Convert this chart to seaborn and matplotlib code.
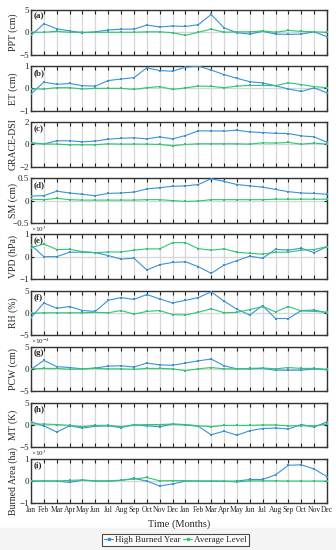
import numpy as np
import pandas as pd
import matplotlib
matplotlib.use("Agg")
import matplotlib.pyplot as plt
import seaborn as sns
from matplotlib.lines import Line2D

months = ["Jan", "Feb", "Mar", "Apr", "May", "Jun", "Jul", "Aug", "Sep", "Oct", "Nov", "Dec"] * 2
series_names = ["High Burned Year", "Average Level"]

ppt_high = [-0.7, 1.9, 0.8, 0.3, -0.1, 0.1, 0.5, 0.7, 0.7, 1.6, 1.2, 1.4, 1.3, 1.7, 4.0, 1.0, -0.1, -0.4, 0.2, -0.4, -0.5, -0.4, 0.1, -1.0]
ppt_avg = [0.0, 0.0, 0.2, 0.0, 0.0, 0.0, 0.0, 0.0, 0.0, 0.1, 0.1, -0.1, -0.7, 0.0, 0.7, 0.0, 0.1, 0.1, 0.3, 0.0, 0.4, 0.2, 0.1, 0.0]

et_high = [-0.25, 0.28, 0.18, 0.22, 0.12, 0.10, 0.35, 0.42, 0.48, 0.92, 0.80, 0.77, 0.95, 1.0, 0.82, 0.62, 0.45, 0.30, 0.24, 0.12, -0.03, -0.14, 0.02, -0.2]
et_avg = [-0.03, -0.03, 0.03, 0.03, -0.03, 0.0, 0.0, 0.0, -0.05, 0.03, 0.08, -0.05, 0.02, 0.10, 0.09, 0.03, 0.10, 0.13, 0.13, 0.12, 0.25, 0.17, 0.08, 0.03]

grace_high = [0.15, 0.05, 0.33, 0.33, 0.24, 0.30, 0.47, 0.56, 0.60, 0.50, 0.68, 0.50, 0.80, 1.22, 1.22, 1.20, 1.28, 1.13, 1.07, 1.00, 0.98, 0.77, 0.68, 0.20]
grace_avg = [0.10, 0.05, 0.03, -0.03, -0.03, -0.03, 0.06, 0.03, 0.03, 0.03, 0.0, -0.12, 0.0, 0.06, 0.06, 0.06, 0.06, 0.03, 0.15, 0.12, 0.18, 0.03, 0.12, 0.03]

sm_high = [0.10, 0.11, 0.21, 0.17, 0.14, 0.11, 0.16, 0.17, 0.19, 0.26, 0.29, 0.32, 0.33, 0.36, 0.49, 0.43, 0.36, 0.33, 0.30, 0.25, 0.20, 0.17, 0.16, 0.14]
sm_avg = [0.03, 0.02, 0.05, 0.02, 0.01, 0.01, 0.01, 0.01, 0.01, 0.02, 0.02, 0.0, -0.02, -0.01, 0.02, 0.02, 0.02, 0.02, 0.02, 0.03, 0.03, 0.03, 0.03, 0.03]

vpd_high = [0.52, 0.0, 0.0, 0.20, 0.20, 0.18, 0.05, -0.11, -0.07, -0.60, -0.36, -0.26, -0.23, -0.45, -0.75, -0.38, -0.18, 0.02, -0.07, 0.33, 0.29, 0.38, 0.18, 0.45]
vpd_avg = [0.40, 0.57, 0.32, 0.33, 0.23, 0.18, 0.21, 0.21, 0.29, 0.35, 0.35, 0.63, 0.63, 0.36, 0.29, 0.35, 0.20, 0.15, 0.11, 0.20, 0.20, 0.29, 0.32, 0.45]

rh_high = [-1.1, 2.2, 1.0, 1.4, 0.5, 0.3, 2.8, 3.4, 3.0, 4.1, 3.1, 2.2, 2.8, 3.4, 4.7, 2.6, 0.8, -0.5, 1.6, -1.3, -1.3, 0.5, 0.6, 0.0]
rh_avg = [-0.1, 0.0, 0.0, 0.0, 0.0, 0.1, 0.0, 0.5, -0.3, 0.3, 0.5, -0.4, -0.5, 0.1, 0.9, 0.0, 0.1, 0.7, 1.4, 0.2, 1.4, 0.4, 0.3, 0.1]

pcw_high = [-0.1, 1.9, 0.5, 0.3, 0.0, 0.2, 0.6, 0.7, 0.4, 1.3, 0.9, 0.8, 1.3, 1.8, 2.2, 0.7, 0.0, 0.0, 0.1, -0.3, -0.3, -0.3, 0.0, -0.2]
pcw_avg = [0.0, 0.1, 0.1, -0.1, 0.0, 0.1, 0.0, 0.0, -0.1, 0.1, 0.1, 0.0, -0.4, 0.0, 0.3, 0.0, 0.0, 0.1, 0.2, 0.0, 0.3, 0.1, 0.1, -0.1]

mt_high = [0.7, -0.2, -1.6, -0.2, -0.7, -0.3, -0.2, -0.6, 0.1, -0.2, -0.4, 0.2, 0.0, -0.3, -2.2, -1.4, -2.3, -1.3, -0.8, -0.7, -0.9, 0.1, -0.5, 0.7]
mt_avg = [0.2, 0.2, 0.1, -0.1, -0.4, -0.1, -0.1, -0.4, -0.1, 0.1, 0.1, 0.2, 0.1, -0.2, -0.4, -0.1, -0.1, -0.1, 0.0, 0.0, -0.2, -0.2, -0.2, 0.2]

ba_high = [0.0, 0.0, 0.0, -0.06, 0.04, 0.0, -0.01, 0.03, 0.12, 0.0, -0.22, -0.13, 0.0, 0.0, 0.0, -0.01, 0.0, 0.07, 0.07, 0.28, 0.71, 0.73, 0.54, 0.20]
ba_avg = [0.0, 0.01, 0.0, 0.03, 0.05, 0.01, 0.01, 0.04, 0.09, 0.16, 0.01, 0.02, 0.02, 0.0, 0.0, 0.0, -0.04, 0.01, 0.01, 0.01, 0.0, 0.0, 0.0, 0.0]

panel_letters = ["(a)", "(b)", "(c)", "(d)", "(e)", "(f)", "(g)", "(h)", "(i)"]
ylabels = ["PPT (cm)", "ET (cm)", "GRACE-DSI", "SM (cm)", "VPD (hPa)", "RH (%)", "PCW (cm)", "MT (K)", "Burned Area (ha)"]
yticks_list = [[-5, 0, 5], [-1, 0, 1], [-2, 0, 2], [-0.5, 0, 0.5], [-1, 0, 1], [-5, 0, 5], [-5, 0, 5], [-5, 0, 5], [-1, 0, 1]]
yticklabels_list = [["\u22125", "0", "5"], ["\u22121", "0", "1"], ["\u22122", "0", "2"], ["\u22120.5", "0", "0.5"],
                    ["\u22121", "0", "1"], ["\u22125", "0", "5"], ["\u22125", "0", "5"], ["\u22125", "0", "5"], ["\u22121", "0", "1"]]
exponents = [None, None, None, None, "\u00d710$^{3}$", None, "\u00d710$^{-4}$", None, "\u00d710$^{3}$"]
highs = [ppt_high, et_high, grace_high, sm_high, vpd_high, rh_high, pcw_high, mt_high, ba_high]
avgs = [ppt_avg, et_avg, grace_avg, sm_avg, vpd_avg, rh_avg, pcw_avg, mt_avg, ba_avg]

sns.set_theme(style="white")
plt.rcParams["font.family"] = ["Liberation Serif", "DejaVu Serif"]
plt.rcParams["mathtext.fontset"] = "stix"

blue = "#3A92D4"
green = "#2DC673"
palette = {series_names[0]: blue, series_names[1]: green}

W, H = 336, 550
fig = plt.figure(figsize=(W / 100, H / 100), dpi=100)
fig.patches.append(plt.Rectangle((0, 0), 1, 22 / H, transform=fig.transFigure, color="#f4f4f4", zorder=-10))

left, right = 31, 327
top0, step, height = 10, 56.1, 44.5
x = np.arange(1, 25)

for i in range(9):
    top = top0 + step * i
    ax = fig.add_axes([left / W, 1 - (top + height) / H, (right - left) / W, height / H])
    df = pd.DataFrame({
        "x": np.concatenate([x, x]),
        "val": np.concatenate([highs[i], avgs[i]]),
        "series": [series_names[0]] * 24 + [series_names[1]] * 24,
    })
    sns.lineplot(data=df, x="x", y="val", hue="series", palette=palette, ax=ax,
                 marker="s", markersize=1.7, markeredgewidth=0, linewidth=0.8,
                 legend=False, zorder=3)
    ax.set_xlim(1, 24)
    ax.set_ylim(yticks_list[i][0], yticks_list[i][-1])
    ax.set_yticks(yticks_list[i])
    ax.set_yticklabels(yticklabels_list[i], fontsize=6.5)
    ax.set_xticks(x)
    if i == 8:
        ax.set_xticklabels(months, fontsize=5.5)
        ax.set_xlabel("Time (Months)", fontsize=7.5, labelpad=4)
    else:
        ax.set_xticklabels([])
        ax.set_xlabel("")
    ax.set_ylabel(ylabels[i], fontsize=7)
    ax.yaxis.set_label_coords(-0.045, 0.5)
    ax.grid(True, color="#d6d6d6", linewidth=0.9, zorder=0)
    ax.set_axisbelow(True)
    ax.tick_params(axis="x", direction="in", length=3, width=0.8, top=True, bottom=True,
                   pad=2, color="#222222")
    ax.tick_params(axis="y", direction="in", length=2, width=0.8, left=True, right=True,
                   pad=1.5, color="#222222")
    for sp in ax.spines.values():
        sp.set_color("#333333")
        sp.set_linewidth(1.0)
    ax.text(0.008, 0.94, panel_letters[i], transform=ax.transAxes, fontsize=6.5,
            fontweight="bold", ha="left", va="top", zorder=5)
    if exponents[i]:
        ax.text(0.0, 1.01, exponents[i], transform=ax.transAxes, fontsize=5.2,
                ha="left", va="bottom")

handles = [Line2D([], [], color=blue, marker="s", markersize=1.7, linewidth=0.8),
           Line2D([], [], color=green, marker="s", markersize=1.7, linewidth=0.8)]
leg = fig.legend(handles, series_names, loc="center", bbox_to_anchor=(175.5 / W, 1 - 540 / H),
                 ncol=2, fontsize=6.5, frameon=True, handlelength=1.0, handletextpad=0.2,
                 columnspacing=0.3, borderpad=0.25, fancybox=False)
leg.get_frame().set_edgecolor("#222222")
leg.get_frame().set_linewidth(0.8)
leg.get_frame().set_facecolor("white")

fig.savefig("out.png", dpi=100)
